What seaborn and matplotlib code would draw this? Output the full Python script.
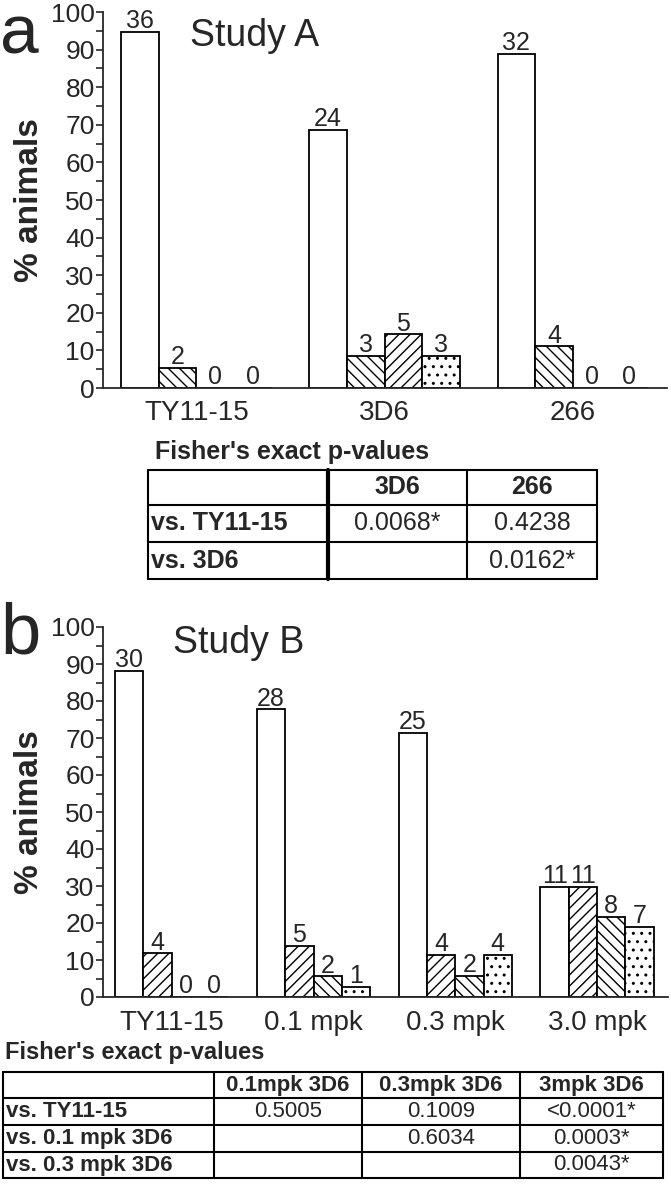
import pandas as pd
import seaborn as sns
import matplotlib.pyplot as plt
from matplotlib.lines import Line2D
from matplotlib.ticker import MultipleLocator

# ---- data ----
levels = ["grade 0", "grade 1", "grade 2", "grade 3"]

# Study A
a_groups = ["TY11-15", "3D6", "266"]
a_pct_0 = [94.7, 68.6, 88.9]
a_pct_1 = [5.3, 8.6, 11.1]
a_pct_2 = [0.0, 14.3, 0.0]
a_pct_3 = [0.0, 8.6, 0.0]
a_n_0 = [36, 24, 32]
a_n_1 = [2, 3, 4]
a_n_2 = [0, 5, 0]
a_n_3 = [0, 3, 0]

# Study B
b_groups = ["TY11-15", "0.1 mpk", "0.3 mpk", "3.0 mpk"]
b_pct_0 = [88.2, 77.8, 71.4, 29.7]
b_pct_1 = [11.8, 13.9, 11.4, 29.7]
b_pct_2 = [0.0, 5.6, 5.7, 21.6]
b_pct_3 = [0.0, 2.8, 11.4, 18.9]
b_n_0 = [30, 28, 25, 11]
b_n_1 = [4, 5, 4, 11]
b_n_2 = [0, 2, 2, 8]
b_n_3 = [0, 1, 4, 7]

# Fisher tables
a_tab_header = ["", "3D6", "266"]
a_tab_rows = [["vs. TY11-15", "0.0068*", "0.4238"],
              ["vs. 3D6", "", "0.0162*"]]
b_tab_header = ["", "0.1mpk 3D6", "0.3mpk 3D6", "3mpk 3D6"]
b_tab_rows = [["vs. TY11-15", "0.5005", "0.1009", "<0.0001*"],
              ["vs. 0.1 mpk 3D6", "", "0.6034", "0.0003*"],
              ["vs. 0.3 mpk 3D6", "", "", "0.0043*"]]

sns.set_style("ticks")
plt.rcParams['font.family'] = ['Liberation Sans', 'DejaVu Sans']
plt.rcParams['hatch.linewidth'] = 1.0

W, H = 671, 1199
fig = plt.figure(figsize=(W / 100, H / 100), dpi=100)


def fx(px):
    return px / W


def fy(py):
    return 1 - py / H


def long_df(groups, pcts, counts):
    rows = []
    for lev, p, n in zip(levels, pcts, counts):
        for g, v, c in zip(groups, p, n):
            rows.append({"group": g, "level": lev, "pct": v, "n": c})
    return pd.DataFrame(rows)


def draw_panel(rect, groups, pcts, counts, hatches, xlim):
    ax = fig.add_axes(rect)
    df = long_df(groups, pcts, counts)
    sns.barplot(data=df, x="group", y="pct", hue="level", order=groups,
                hue_order=levels, palette=["white"] * 4, saturation=1,
                edgecolor="black", linewidth=1.3, width=0.8, gap=0,
                legend=False, errorbar=None, ax=ax)
    for cont, hatch, n in zip(ax.containers, hatches, counts):
        for bar in cont:
            bar.set_hatch(hatch)
        ax.bar_label(cont, labels=[str(c) for c in n], padding=-1, fontsize=18)
    ax.set_ylim(0, 100)
    ax.set_xlim(*xlim)
    ax.yaxis.set_major_locator(MultipleLocator(10))
    ax.yaxis.set_minor_locator(MultipleLocator(5))
    ax.tick_params(axis="y", which="both", length=5, width=1.2, labelsize=19, pad=1)
    ax.tick_params(axis="x", length=0, labelsize=20, pad=9)
    ax.set_xlabel("")
    ax.set_ylabel("")
    for s in ["top", "right"]:
        ax.spines[s].set_visible(False)
    for s in ["left", "bottom"]:
        ax.spines[s].set_linewidth(1.3)
    return ax


def draw_table(xs, ys, header, rows, fontsize, thick_col=None):
    for y in ys:
        fig.add_artist(Line2D([fx(xs[0]), fx(xs[-1])], [fy(y), fy(y)],
                              color="black", lw=1.5))
    for i, x in enumerate(xs):
        lw = 3 if i == thick_col else 1.5
        fig.add_artist(Line2D([fx(x), fx(x)], [fy(ys[0]), fy(ys[-1])],
                              color="black", lw=lw))
    all_rows = [header] + rows
    for r, row in enumerate(all_rows):
        yc = (ys[r] + ys[r + 1]) / 2
        for c, txt in enumerate(row):
            if c == 0:
                fig.text(fx(xs[0] + 3), fy(yc), txt, ha="left", va="center",
                         fontsize=fontsize, fontweight="bold")
            else:
                xc = (xs[c] + xs[c + 1]) / 2
                fig.text(fx(xc), fy(yc), txt, ha="center", va="center",
                         fontsize=fontsize,
                         fontweight="bold" if r == 0 else "normal")


# panel a
draw_panel([fx(103), fy(388), fx(564), 376 / H], a_groups,
           [a_pct_0, a_pct_1, a_pct_2, a_pct_3],
           [a_n_0, a_n_1, a_n_2, a_n_3],
           ["", "\\\\\\", "///", ".."], (-0.496, 2.5))
fig.text(0.0, fy(53), "a", fontsize=50, va="baseline", ha="left")
fig.text(fx(190), fy(36), "Study A", fontsize=27, va="center", ha="left")
fig.text(fx(30), fy(200), "% animals", fontsize=24, fontweight="bold",
         rotation=90, ha="center", va="center")

fig.text(fx(155), fy(452), "Fisher's exact p-values", fontsize=18,
         fontweight="bold", ha="left", va="center")
draw_table([148, 328, 467, 597], [470, 505, 542, 579],
           a_tab_header, a_tab_rows, 18, thick_col=1)

# panel b
draw_panel([fx(103), fy(997), fx(565), 370 / H], b_groups,
           [b_pct_0, b_pct_1, b_pct_2, b_pct_3],
           [b_n_0, b_n_1, b_n_2, b_n_3],
           ["", "///", "\\\\\\", ".."], (-0.485, 3.5))
fig.text(0.0, fy(653), "b", fontsize=52, va="baseline", ha="left")
fig.text(fx(173), fy(643), "Study B", fontsize=27, va="center", ha="left")
fig.text(fx(30), fy(812), "% animals", fontsize=24, fontweight="bold",
         rotation=90, ha="center", va="center")

fig.text(fx(5), fy(1053), "Fisher's exact p-values", fontsize=17,
         fontweight="bold", ha="left", va="center")
draw_table([3, 214, 362, 520, 663], [1072, 1098, 1125, 1152, 1178],
           b_tab_header, b_tab_rows, 16)

fig.savefig("out.png", dpi=100)
